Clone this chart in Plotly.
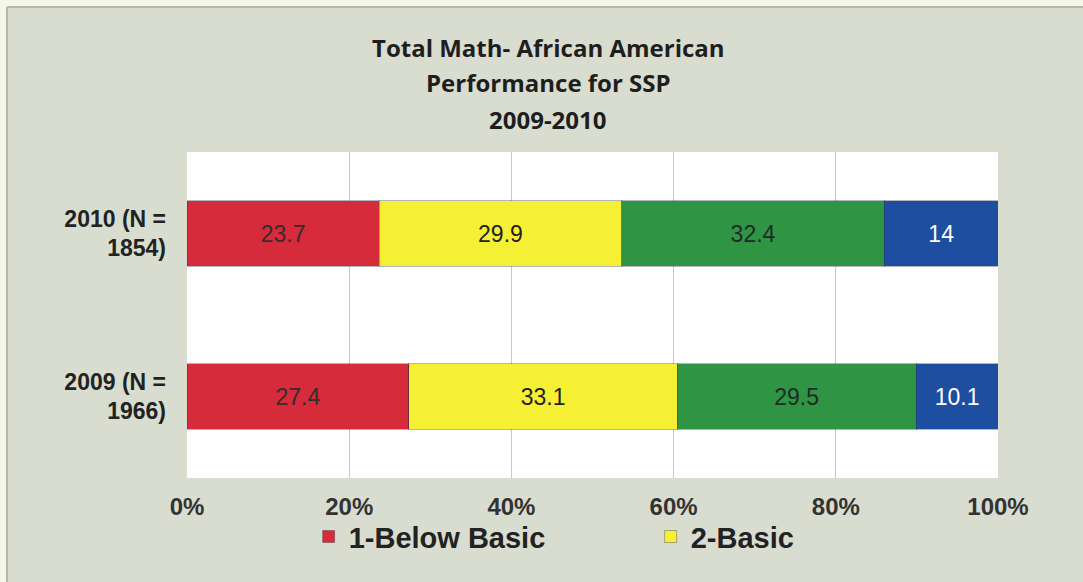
import plotly.graph_objects as go

categories = ["2009 (N =<br>1966)", "2010 (N =<br>1854)"]
series_names = ["1-Below Basic", "2-Basic", "3-Proficient", "4-Advanced"]
below_basic = [27.4, 23.7]
basic = [33.1, 29.9]
proficient = [29.5, 32.4]
advanced = [10.1, 14]
tick_vals = [0, 20, 40, 60, 80, 100]
tick_text = ["0%", "20%", "40%", "60%", "80%", "100%"]
title_lines = ["Total Math- African American", "Performance for SSP", "2009-2010"]

series_values = [below_basic, basic, proficient, advanced]
colors = ["#d52b3b", "#f6f034", "#2f9443", "#1d4ea0"]
text_colors = ["#3a2a2a", "#222222", "#1f2a2a", "#ffffff"]
in_legend = [True, True, False, False]

fig = go.Figure()
for name, vals, col, tcol, show in zip(series_names, series_values, colors, text_colors, in_legend):
    fig.add_trace(go.Bar(
        y=categories, x=vals, name=name, orientation="h",
        marker=dict(color=col, line=dict(color="rgba(40,40,60,0.35)", width=1)),
        text=[f"{v:g}" for v in vals], textposition="inside", insidetextanchor="middle",
        textfont=dict(family="Liberation Sans, Arial", size=23, color=tcol),
        showlegend=show,
    ))

fig.update_layout(
    width=1083, height=582,
    barmode="stack", barnorm="percent", bargap=0.6,
    paper_bgcolor="#d9ddcf", plot_bgcolor="#ffffff",
    margin=dict(l=187, r=85, t=152, b=104),
    xaxis=dict(range=[0, 100], tickvals=tick_vals, ticktext=tick_text,
               showgrid=True, gridcolor="#c8c8c8", gridwidth=1, zeroline=False,
               tickfont=dict(family="Liberation Sans, Arial", size=24, color="#333333", weight="bold"),
               ticks="", ticklabelstandoff=12),
    yaxis=dict(categoryorder="array", categoryarray=categories,
               tickfont=dict(family="Liberation Sans, Arial", size=23, color="#222222", weight="bold"),
               ticks="", ticklabelstandoff=20),
    legend=dict(orientation="h", traceorder="normal", x=0.150, xanchor="left", y=-0.18, yanchor="middle",
                bgcolor="rgba(0,0,0,0)", entrywidth=297, entrywidthmode="pixels",
                itemwidth=30,
                font=dict(family="Liberation Sans, Arial", size=29, color="#222222", weight="bold")),
    uniformtext=dict(minsize=10, mode="show"),
)

# three title lines, placed individually for tighter spacing
for line, ypix in zip(title_lines, [47, 83, 120]):
    fig.add_annotation(text=line, xref="paper", yref="paper",
                       x=(548 - 187) / 811, y=(478 - ypix) / 326,
                       xanchor="center", yanchor="middle", showarrow=False,
                       font=dict(family="Open Sans", size=24, color="#1e1e1e", weight="bold"))

# pale page margin above and left of the chart, with a thin grey frame edge
fx, fy = (7 - 187) / 811, (478 - 7) / 326
fig.add_shape(type="rect", xref="paper", yref="paper", x0=-0.3, x1=1.2, y0=fy, y1=1.6,
              fillcolor="#f4f6e8", line=dict(width=0), layer="below")
fig.add_shape(type="rect", xref="paper", yref="paper", x0=-0.3, x1=fx, y0=-0.5, y1=1.6,
              fillcolor="#f4f6e8", line=dict(width=0), layer="below")
fig.add_shape(type="line", xref="paper", yref="paper", x0=fx, x1=1.2, y0=fy, y1=fy,
              line=dict(color="#b4b8aa", width=2))
fig.add_shape(type="line", xref="paper", yref="paper", x0=fx, x1=fx, y0=-0.5, y1=fy,
              line=dict(color="#b4b8aa", width=2))

fig.write_html("out.html")
